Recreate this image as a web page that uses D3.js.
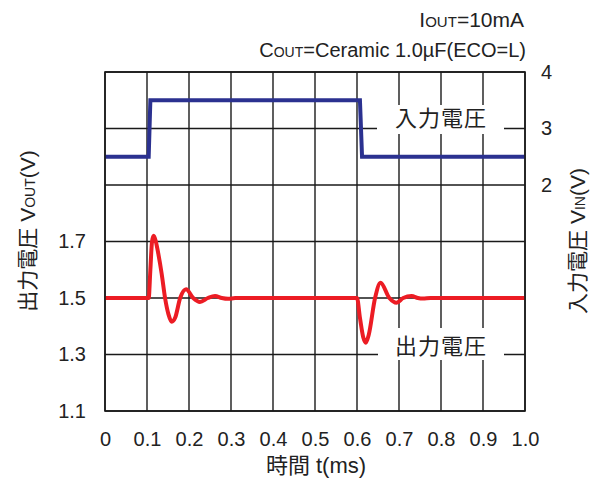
<html>
<head>
  <meta charset="utf-8">
  <title>VOUT / VIN transient</title>
</head>
<style>
  body {
    padding: 0em;
    margin: 0em;
    background: #fff;
  }
  text {
    font-family: "Liberation Sans", Arial, "Noto Sans CJK JP", sans-serif;
    fill: #222;
  }
</style>

<body>
  <div id="chart"></div>
</body>

<script src="https://cdn.jsdelivr.net/npm/d3@7"></script>
<script>
  // 入力電圧 (VIN) step
  const vinT = [0, 0.104, 0.108, 0.607, 0.612, 1.0]
  const vinV = [2.5, 2.5, 3.5, 3.5, 2.5, 2.5]

  // 出力電圧 (VOUT) response
  const voutT = [0, 0.104, 0.108, 0.112, 0.116, 0.121, 0.127, 0.135, 0.143, 0.151, 0.159, 0.167, 0.179, 0.193, 0.210, 0.226, 0.245, 0.262, 0.278, 0.293, 0.310,
    0.600, 0.607, 0.615, 0.621, 0.628, 0.643, 0.656, 0.677, 0.694, 0.710, 0.730, 0.745, 0.757, 0.775, 1.0]
  const voutV = [1.5, 1.5, 1.60, 1.70, 1.72, 1.70, 1.656, 1.585, 1.50, 1.443, 1.416, 1.43, 1.50, 1.531, 1.50, 1.486, 1.50, 1.507, 1.50, 1.497, 1.5,
    1.5, 1.43, 1.36, 1.342, 1.37, 1.50, 1.554, 1.50, 1.483, 1.50, 1.507, 1.50, 1.498, 1.5, 1.5]

  const xTicks = [0, 0.1, 0.2, 0.3, 0.4, 0.5, 0.6, 0.7, 0.8, 0.9, 1.0]
  const xTickLabels = ["0", "0.1", "0.2", "0.3", "0.4", "0.5", "0.6", "0.7", "0.8", "0.9", "1.0"]
  const yGrid = [1.1, 1.3, 1.5, 1.7, 1.9, 2.1, 2.3]
  const yLeftTicks = [1.1, 1.3, 1.5, 1.7]
  const yRightTicks = [2, 3, 4]

  const width = 601
  const height = 484
  const L = 105, R = 525, T = 72, B = 411

  const svg = d3.select("#chart").append("svg")
    .attr("width", width)
    .attr("height", height)

  const x = d3.scaleLinear().domain([0, 1]).range([L, R])
  const yL = d3.scaleLinear().domain([1.1, 2.3]).range([B, T])
  const yR = d3.scaleLinear().domain([-2, 4]).range([B, T])

  // grid
  const grid = svg.append("g").attr("stroke", "#1a1a1a").attr("stroke-width", 1.4)
  grid.selectAll("line.v").data(xTicks).join("line")
    .attr("x1", d => x(d)).attr("x2", d => x(d))
    .attr("y1", T).attr("y2", B)
  grid.selectAll("line.h").data(yGrid).join("line")
    .attr("x1", L).attr("x2", R)
    .attr("y1", d => yL(d)).attr("y2", d => yL(d))

  // label boxes hide grid
  svg.append("rect").attr("x", 377).attr("y", 105).attr("width", 127).attr("height", 29).attr("fill", "#fff")
  svg.append("rect").attr("x", 378).attr("y", 328).attr("width", 126).attr("height", 32).attr("fill", "#fff")

  svg.append("text").attr("x", 441).attr("y", 126).attr("text-anchor", "middle")
    .style("font-size", "22px").style("letter-spacing", "1px").text("入力電圧")
  svg.append("text").attr("x", 441).attr("y", 354).attr("text-anchor", "middle")
    .style("font-size", "22px").style("letter-spacing", "1px").text("出力電圧")

  // lines
  const lineIn = d3.line().x((d, i) => x(vinT[i])).y(d => yR(d))
  svg.append("path").datum(vinV)
    .attr("d", lineIn)
    .attr("fill", "none").attr("stroke", "#2b3190").attr("stroke-width", 4)

  const lineOut = d3.line().x((d, i) => x(voutT[i])).y(d => yL(d)).curve(d3.curveMonotoneX)
  svg.append("path").datum(voutV)
    .attr("d", lineOut)
    .attr("fill", "none").attr("stroke", "#ec1c24").attr("stroke-width", 4)
    .attr("stroke-linejoin", "round")

  // axes
  const ax = svg.append("g").attr("transform", `translate(0,${B})`)
    .call(d3.axisBottom(x).tickValues(xTicks).tickFormat((d, i) => xTickLabels[i]).tickSize(0).tickPadding(21))
  const ay = svg.append("g").attr("transform", `translate(${L},0)`)
    .call(d3.axisLeft(yL).tickValues(yLeftTicks).tickFormat(d3.format(".1f")).tickSize(0).tickPadding(19))
  const ay2 = svg.append("g").attr("transform", `translate(${R},0)`)
    .call(d3.axisRight(yR).tickValues(yRightTicks).tickFormat(d3.format("d")).tickSize(0).tickPadding(16))
  for (const a of [ax, ay, ay2]) {
    a.select(".domain").remove()
    a.selectAll("text").attr("font-family", null).attr("fill", "#222").style("font-size", "20px")
  }

  // frame
  svg.append("rect").attr("x", L).attr("y", T).attr("width", R - L).attr("height", B - T)
    .attr("fill", "none").attr("stroke", "#1a1a1a").attr("stroke-width", 1.6)

  // titles
  const t1 = svg.append("text").attr("x", 524).attr("y", 27).attr("text-anchor", "end").style("font-size", "21px")
  t1.append("tspan").text("I")
  t1.append("tspan").style("font-size", "15px").text("OUT")
  t1.append("tspan").text("=10mA")

  const t2 = svg.append("text").attr("x", 526).attr("y", 57).attr("text-anchor", "end").style("font-size", "20px")
  t2.append("tspan").text("C")
  t2.append("tspan").style("font-size", "14px").text("OUT")
  t2.append("tspan").text("=Ceramic 1.0µF(ECO=L)")

  svg.append("text").attr("x", 316).attr("y", 473).attr("text-anchor", "middle")
    .style("font-size", "22px").text("時間 t(ms)")

  const yt1 = svg.append("text").attr("transform", "translate(35,231) rotate(-90)")
    .attr("text-anchor", "middle").style("font-size", "21px")
  yt1.append("tspan").text("出力電圧 V")
  yt1.append("tspan").style("font-size", "14px").text("OUT")
  yt1.append("tspan").text("(V)")

  const yt2 = svg.append("text").attr("transform", "translate(585,241) rotate(-90)")
    .attr("text-anchor", "middle").style("font-size", "21px")
  yt2.append("tspan").text("入力電圧 V")
  yt2.append("tspan").style("font-size", "14px").text("IN")
  yt2.append("tspan").text("(V)")
</script>

</html>
